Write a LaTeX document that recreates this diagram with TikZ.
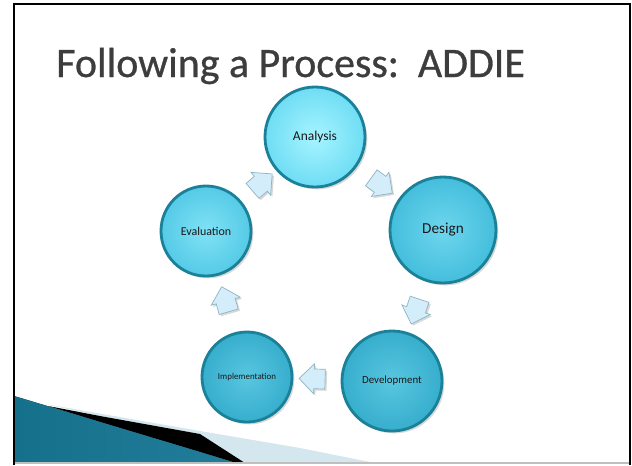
\documentclass[tikz,border=0pt]{standalone}
\usepackage{fontspec}
\setmainfont{Carlito}
\newfontfamily\titlefont[FakeBold=0.7]{Carlito}
\usetikzlibrary{shapes.arrows,shadows}
\definecolor{titlegray}{HTML}{3D3D3D}
\definecolor{rimteal}{HTML}{1A8199}
\definecolor{anain}{HTML}{A6F4FF}
\definecolor{anaout}{HTML}{6FDDF4}
\definecolor{desin}{HTML}{6ED6EE}
\definecolor{desout}{HTML}{44BEDC}
\definecolor{evain}{HTML}{80E2F6}
\definecolor{evaout}{HTML}{55CAE6}
\definecolor{impin}{HTML}{58C6E0}
\definecolor{impout}{HTML}{37AECD}
\definecolor{arrowfill}{HTML}{D3EEFA}
\definecolor{arrowedge}{HTML}{8FB4C4}
\definecolor{wedgedark}{HTML}{15708B}
\definecolor{wedgelight}{HTML}{4FB3D3}
\definecolor{stripe}{HTML}{D4E6EE}

\begin{document}
\begin{tikzpicture}[
    x=0.03cm,y=-0.03cm,
    phase/.style={circle, draw=rimteal, line width=2.4pt, inner sep=0, text=black!90,
        drop shadow={shadow xshift=2pt, shadow yshift=-2pt, opacity=0.3}},
    cycarrow/.style={single arrow, sloped, allow upside down, draw=arrowedge, fill=arrowfill,
        line width=0.6pt, inner sep=0.22cm, minimum width=0.9cm, minimum height=0.78cm,
        single arrow head extend=0.12cm,
        drop shadow={shadow xshift=1.5pt, shadow yshift=-1.5pt, opacity=0.3}}
]
\useasboundingbox (0,0) rectangle (632,465);
\fill[white] (0,0) rectangle (632,465);

\node[anchor=base west, inner sep=0, text=titlegray, font=\titlefont\fontsize{35.8}{38}\selectfont] (title) at (56,77) {Following a Process:\ \ ADDIE};

\fill[stripe] (45,404) -- (200,431) -- (300,448) -- (375,463) -- (245,463) -- (200,434) -- (100,416) -- cycle;
\fill[black] (48,406) -- (100,416) -- (200,434) -- (245,463) -- (236,463) -- (200,452) -- (100,422) -- cycle;
\fill[left color=wedgedark, middle color=wedgelight, right color=wedgedark!80!wedgelight] (14,396) -- (200,452) -- (236,463) -- (14,463) -- cycle;
\draw[black!25, line width=1pt] (14,463) -- (629,463);
\draw[line width=2.2pt] (14,465) -- (14,4) -- (630,4) -- (630,465);

\node[phase, minimum size=3cm, inner color=anain, outer color=anaout, font=\fontsize{11.5}{12}\selectfont] (ana) at (315,137) {Analysis};
\node[phase, minimum size=3.18cm, inner color=desin, outer color=desout, font=\fontsize{13}{14}\selectfont] (des) at (443,230) {Design};
\node[phase, minimum size=3cm, inner color=impin, outer color=impout, font=\fontsize{9.3}{10}\selectfont] (dev) at (392,381) {Development};
\node[phase, minimum size=2.7cm, inner color=impin, outer color=impout, font=\fontsize{7.6}{8}\selectfont] (imp) at (247,377) {Implementation};
\node[phase, minimum size=2.7cm, inner color=evain, outer color=evaout, font=\fontsize{10.2}{11}\selectfont] (eva) at (206,231) {Evaluation};

\path (ana) -- node[cycarrow] {} (des);
\path (des) -- node[cycarrow] {} (dev);
\path (dev) -- node[cycarrow] {} (imp);
\path (imp) -- node[cycarrow] {} (eva);
\path (eva) -- node[cycarrow] {} (ana);
\end{tikzpicture}
\end{document}
